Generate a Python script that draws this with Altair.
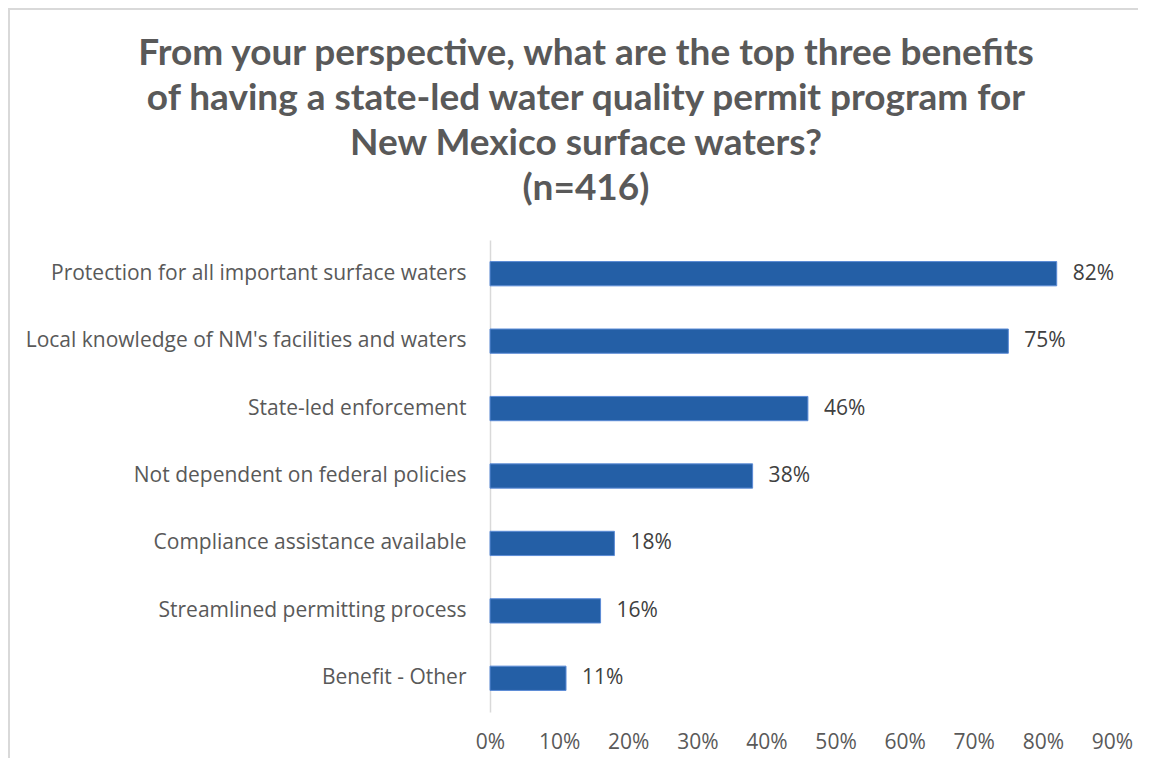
import altair as alt
import pandas as pd

categories = [
    "Protection for all important surface waters",
    "Local knowledge of NM's facilities and waters",
    "State-led enforcement",
    "Not dependent on federal policies",
    "Compliance assistance available",
    "Streamlined permitting process",
    "Benefit - Other",
]
values = [0.82, 0.75, 0.46, 0.38, 0.18, 0.16, 0.11]
title_lines = [
    "From your perspective, what are the top three benefits",
    "of having a state-led water quality permit program for",
    "New Mexico surface waters?",
    "(n=416)",
]
x_ticks = [0, 0.1, 0.2, 0.3, 0.4, 0.5, 0.6, 0.7, 0.8, 0.9]

df = pd.DataFrame({"cat": categories, "val": values})

FONT = "Open Sans"
TFONT = "Lato"
FS = 21
W, H = 622, 472
PL, PT = 482, 232
TOTW, TOTH = 1130, 750

base = alt.Chart(df).encode(
    y=alt.Y(
        "cat:N",
        sort=categories,
        scale=alt.Scale(paddingInner=0.64, paddingOuter=0.32),
        axis=alt.Axis(
            title=None,
            ticks=False,
            labelFontSize=FS,
            labelFont=FONT,
            labelColor="#595959",
            labelPadding=24,
            domainColor="#d9d9d9",
            domainWidth=1.5,
            labelLimit=600,
        ),
    ),
)

bars = base.mark_bar(color="#245FA6", stroke="#5B8BD6", strokeWidth=1).encode(
    x=alt.X(
        "val:Q",
        scale=alt.Scale(domain=[0, 0.9], nice=False),
        axis=alt.Axis(
            title=None,
            values=x_ticks,
            format=".0%",
            grid=False,
            ticks=False,
            domain=False,
            labelFontSize=FS,
            labelFont=FONT,
            labelColor="#595959",
            labelPadding=19,
            labelFlush=False,
            labelOverlap=False,
            labelBound=False,
        ),
    )
)

labels = base.mark_text(
    align="left", baseline="middle", dx=16, fontSize=FS, font=FONT, color="#404040"
).encode(x="val:Q", text=alt.Text("val:Q", format=".0%"))

border = alt.Chart(pd.DataFrame({"a": [0]})).mark_rect(
    fill=None, stroke="#d9d9d9", strokeWidth=2
).encode(
    x=alt.value(-481),
    x2=alt.value(TOTW),
    y=alt.value(-231),
    y2=alt.value(TOTH),
)

chart = (
    alt.layer(border, bars, labels)
    .properties(
        width=W,
        height=H,
        autosize=alt.AutoSizeParams(type="none"),
        padding={"left": PL, "top": PT, "right": TOTW - PL - W, "bottom": TOTH - PT - H},
        title=alt.TitleParams(
            text=title_lines,
            fontSize=37,
            font=TFONT,
            fontWeight="bold",
            color="#595959",
            lineHeight=45,
            anchor="middle",
            dx=-215,
            offset=-200,
        ),
    )
    .configure_view(stroke=None)
)

chart.save("out.html", embed_options={"renderer": "svg", "actions": False})
